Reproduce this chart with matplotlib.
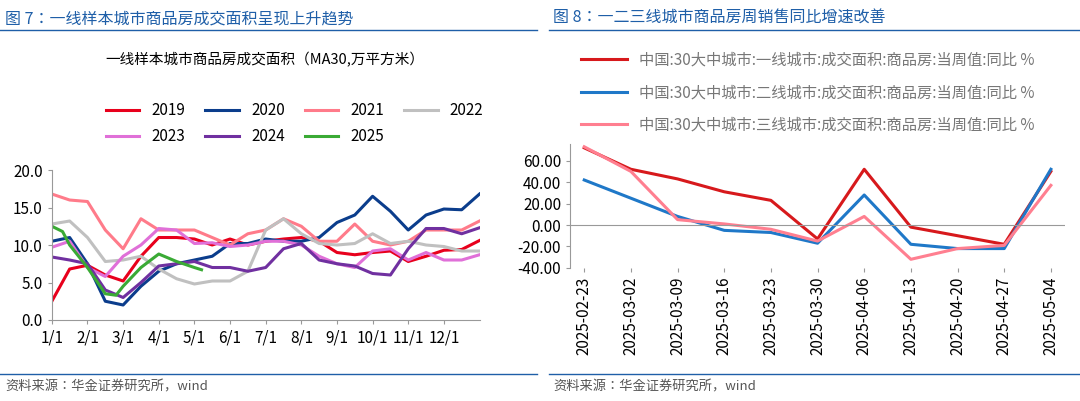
import matplotlib
matplotlib.use("Agg")
import matplotlib.pyplot as plt
from matplotlib import font_manager

# pick an installed CJK family
cjk = [f.name for f in font_manager.fontManager.ttflist if "CJK" in f.name]
pref = [n for n in cjk if "SC" in n] or cjk
plt.rcParams["font.family"] = "sans-serif"
plt.rcParams["font.sans-serif"] = (pref[:1] if pref else []) + ["DejaVu Sans"]

# left chart: half-month grid, month units from 1/1
grid = [0, 0.5, 1, 1.5, 2, 2.5, 3, 3.5, 4, 4.5, 5, 5.5, 6, 6.5, 7, 7.5, 8, 8.5, 9, 9.5, 10, 10.5, 11, 11.5, 12]
y2019 = [2.5, 6.8, 7.3, 6.0, 5.2, 8.5, 11.0, 11.0, 10.8, 10.0, 10.8, 10.0, 10.5, 10.8, 11.0, 10.5, 9.0, 8.7, 9.0, 9.2, 7.8, 8.5, 9.3, 9.4, 10.6]
y2020 = [10.5, 11.0, 7.5, 2.5, 2.0, 4.5, 6.5, 7.5, 8.0, 8.5, 10.2, 10.2, 10.8, 10.5, 10.5, 11.0, 13.0, 14.0, 16.5, 14.5, 12.0, 14.0, 14.8, 14.7, 16.8]
y2021 = [16.8, 16.0, 15.8, 12.0, 9.5, 13.5, 12.0, 12.0, 12.0, 11.0, 10.0, 11.5, 12.0, 13.5, 12.5, 10.5, 10.5, 12.8, 10.5, 10.0, 10.5, 12.0, 12.0, 12.0, 13.2]
y2022 = [12.8, 13.2, 11.0, 7.8, 8.0, 8.5, 6.8, 5.5, 4.8, 5.2, 5.2, 6.5, 12.0, 13.5, 11.5, 10.2, 10.0, 10.2, 11.5, 10.2, 10.5, 10.0, 9.8, 9.2, 9.2]
y2023 = [9.7, 10.5, 7.0, 5.8, 8.5, 10.0, 12.2, 12.0, 10.2, 10.3, 9.8, 10.0, 10.5, 10.5, 10.0, 8.5, 7.5, 7.0, 9.2, 9.5, 8.0, 9.0, 8.0, 8.0, 8.7]
y2024 = [8.4, 8.0, 7.5, 4.0, 3.0, 5.0, 7.2, 7.5, 7.8, 7.0, 7.0, 6.5, 7.0, 9.5, 10.2, 8.0, 7.5, 7.2, 6.2, 6.0, 9.5, 12.2, 12.2, 11.5, 12.3]
x2025 = [0, 0.3, 0.5, 1, 1.5, 1.8, 2, 2.5, 3, 3.5, 4, 4.2]
y2025 = [12.5, 11.8, 10.0, 7.0, 3.5, 3.3, 4.5, 7.0, 8.8, 7.8, 7.0, 6.7]
month_labels = ["1/1", "2/1", "3/1", "4/1", "5/1", "6/1", "7/1", "8/1", "9/1", "10/1", "11/1", "12/1"]

# right chart
dates = ["2025-02-23", "2025-03-02", "2025-03-09", "2025-03-16", "2025-03-23", "2025-03-30",
         "2025-04-06", "2025-04-13", "2025-04-20", "2025-04-27", "2025-05-04"]
tier1 = [72, 52, 43, 31, 23, -13, 52, -2, -10, -18, 50]
tier2 = [42, 25, 8, -5, -7, -17, 28, -18, -22, -22, 52]
tier3 = [73, 50, 5, 1, -4, -15, 8, -32, -22, -19, 37]

fig = plt.figure(figsize=(10.8, 4.01), dpi=100)
title_color = "#1f5fa8"
fig.text(0.005, 0.975, "图 7：一线样本城市商品房成交面积呈现上升趋势", color=title_color, fontsize=11.5, va="top")
fig.text(0.512, 0.975, "图 8：一二三线城市商品房周销售同比增速改善", color=title_color, fontsize=11.5, va="top")
for x0, x1 in [(0.0, 0.497), (0.508, 1.0)]:
    fig.add_artist(plt.Line2D([x0, x1], [0.925, 0.925], color=title_color, lw=1))
    fig.add_artist(plt.Line2D([x0, x1], [0.068, 0.068], color=title_color, lw=1))
fig.text(0.005, 0.035, "资料来源：华金证券研究所，wind", color="#555555", fontsize=9.5, style="italic", va="center")
fig.text(0.512, 0.035, "资料来源：华金证券研究所，wind", color="#555555", fontsize=9.5, style="italic", va="center")

ax = fig.add_axes([0.048, 0.202, 0.396, 0.374])
series = [("2019", y2019, "#e8001c"), ("2020", y2020, "#0b3d8c"), ("2021", y2021, "#ff7b8a"),
          ("2022", y2022, "#c0c0c0"), ("2023", y2023, "#e070d8"), ("2024", y2024, "#7030a0")]
handles = []
for name, ys, c in series:
    h, = ax.plot(grid, ys, color=c, lw=2.2, label=name)
    handles.append(h)
h, = ax.plot(x2025, y2025, color="#3aaa35", lw=2.2, label="2025")
handles.append(h)
ax.set_xlim(0, 12)
ax.set_ylim(0, 20)
ax.set_yticks([0, 5, 10, 15, 20])
ax.set_yticklabels([f"{v:.1f}" for v in [0, 5, 10, 15, 20]], fontsize=11)
ax.set_xticks(range(12))
ax.set_xticklabels(month_labels, fontsize=11)
for s in ["top", "right"]:
    ax.spines[s].set_visible(False)
for s in ["left", "bottom"]:
    ax.spines[s].set_color("#999999")
ax.tick_params(length=3, color="#999999")
fig.text(0.245, 0.84, "一线样本城市商品房成交面积（MA30,万平方米）", ha="center", fontsize=10.5)
# row-wise order for a 4-column legend
order = [0, 4, 1, 5, 2, 6, 3]
fig.legend(handles=[handles[i] for i in order], loc="upper left", bbox_to_anchor=(0.085, 0.78), ncol=4,
           frameon=False, fontsize=11, handlelength=2.2, columnspacing=1.3, labelspacing=0.6)

ax2 = fig.add_axes([0.528, 0.332, 0.458, 0.31])
ax2.plot(dates, tier1, color="#d7191c", lw=2.2, label="中国:30大中城市:一线城市:成交面积:商品房:当周值:同比 %")
ax2.plot(dates, tier2, color="#1f78c8", lw=2.2, label="中国:30大中城市:二线城市:成交面积:商品房:当周值:同比 %")
ax2.plot(dates, tier3, color="#ff7f90", lw=2.2, label="中国:30大中城市:三线城市:成交面积:商品房:当周值:同比 %")
ax2.set_ylim(-40, 76)
ax2.set_yticks(range(-40, 61, 20))
ax2.set_yticklabels([f"{v:.2f}" for v in range(-40, 61, 20)], fontsize=11)
ax2.set_xlim(-0.3, 10.3)
ax2.tick_params(axis="x", rotation=90, labelsize=11)
ax2.axhline(0, color="#999999", lw=0.8)
for s in ["top", "right", "bottom"]:
    ax2.spines[s].set_visible(False)
ax2.spines["left"].set_color("#999999")
ax2.tick_params(length=3, color="#999999")
leg = fig.legend(*ax2.get_legend_handles_labels(), loc="upper left", bbox_to_anchor=(0.525, 0.905),
                 frameon=False, fontsize=11, labelspacing=1.0, handlelength=3)
for t in leg.get_texts():
    t.set_color("#777777")

fig.savefig("out.png")
